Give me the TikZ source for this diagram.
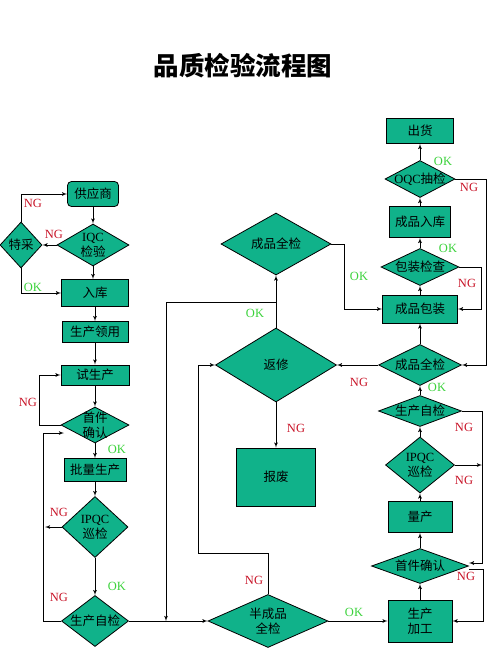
\documentclass[tikz,border=0pt]{standalone}
\usepackage{fontspec}
\setmainfont{Liberation Serif}
\newfontfamily\cjk{Noto Sans CJK SC}
\usepackage{xcolor}
\usepackage{tikz}
\usetikzlibrary{shapes,arrows,calc}
\definecolor{boxgreen}{RGB}{16,178,138}
\definecolor{ngred}{RGB}{200,20,40}
\definecolor{okgreen}{RGB}{60,210,60}
\newcommand{\zw}[1]{\makebox[0pt]{#1}}
\tikzstyle{block} = [rectangle, draw, fill=boxgreen, inner sep=0pt,
    line width=0.8pt, font=\cjk\fontsize{12.5}{15}\selectfont]
\tikzstyle{block_rounded} = [block, rounded corners=4pt]
\tikzstyle{decision} = [diamond, draw, fill=boxgreen, inner sep=0pt, align=center,
    line width=0.8pt, font=\cjk\fontsize{12.5}{15}\selectfont]
\tikzstyle{line} = [draw, -latex', line width=0.8pt]
\tikzstyle{ng} = [text=ngred, inner sep=0pt, font=\fontsize{12.5}{15}\selectfont]
\tikzstyle{ok} = [text=okgreen, inner sep=0pt, font=\fontsize{12.5}{15}\selectfont]
\tikzstyle{heading} = [inner sep=0pt, font=\cjk\bfseries\fontsize{25.5}{30}\selectfont]

\begin{document}
\begin{tikzpicture}[x=1pt, y=-1pt]
    \useasboundingbox (0,0) rectangle (500,666);
    % Place nodes
    \node [heading] (ttl) at (243,66) {品质检验流程图};

    \node [block_rounded, minimum width=51pt, minimum height=25pt] (gys) at (93,194) {供应商};
    \node [decision, minimum width=72pt, minimum height=42pt] (iqc) at (93,245) {\zw{\rmfamily IQC}\\\zw{检验}};
    \node [decision, minimum width=42pt, minimum height=46pt] (tc) at (21,245) {\zw{特采}};
    \node [block, minimum width=67pt, minimum height=27pt] (rk) at (95,293) {入库};
    \node [block, minimum width=66pt, minimum height=21pt] (scly) at (95,332) {生产领用};
    \node [block, minimum width=68pt, minimum height=20pt] (ssc) at (95,375) {试生产};
    \node [decision, minimum width=68pt, minimum height=36pt] (sjqr) at (95,425) {\zw{首件}\\\zw{确认}};
    \node [block, minimum width=62pt, minimum height=23pt] (plsc) at (95,470) {批量生产};
    \node [decision, minimum width=66pt, minimum height=61pt] (ipqc) at (95,527) {\zw{\rmfamily IPQC}\\\zw{巡检}};
    \node [decision, minimum width=67pt, minimum height=51pt] (sczj) at (95,621) {\zw{生产自检}};

    \node [decision, minimum width=110pt, minimum height=62pt] (cpqj) at (276,244) {\zw{成品全检}};
    \node [decision, minimum width=121pt, minimum height=74pt] (fx) at (276,365) {\zw{返修}};
    \node [block, minimum width=79pt, minimum height=58pt] (bf) at (276,477) {报废};
    \node [decision, minimum width=120pt, minimum height=53pt] (bcp) at (268,621) {\zw{半成品}\\\zw{全检}};

    \node [block, minimum width=67pt, minimum height=25pt] (ch) at (420,131) {出货};
    \node [decision, minimum width=70pt, minimum height=37pt] (oqc) at (420,179) {\zw{{\rmfamily OQC}抽检}};
    \node [block, minimum width=61pt, minimum height=31pt] (cprk) at (420,222) {成品入库};
    \node [decision, minimum width=78pt, minimum height=37pt] (bzjc) at (420,267) {\zw{包装检查}};
    \node [block, minimum width=75pt, minimum height=28pt] (cpbz) at (420,309) {成品包装};
    \node [decision, minimum width=83pt, minimum height=41pt] (cpqj2) at (420,365) {\zw{成品全检}};
    \node [decision, minimum width=83pt, minimum height=31pt] (sczj2) at (420,411) {\zw{生产自检}};
    \node [decision, minimum width=69pt, minimum height=56pt] (ipqc2) at (420,465) {\zw{\rmfamily IPQC}\\\zw{巡检}};
    \node [block, minimum width=64pt, minimum height=31pt] (lc) at (420,517) {量产};
    \node [decision, minimum width=97pt, minimum height=35pt] (sjqr2) at (420,566) {\zw{首件确认}};
    \node [block, minimum width=64pt, minimum height=42pt, align=center] (scjg) at (420,621) {生产\\加工};

    % Labels
    \node [ng] (ng1) at (33,203) {NG};
    \node [ng] (ng2) at (54,234) {NG};
    \node [ok] (ok1) at (33,287) {OK};
    \node [ng] (ng3) at (28,402) {NG};
    \node [ok] (ok2) at (117,449) {OK};
    \node [ng] (ng4) at (59,512) {NG};
    \node [ok] (ok3) at (117,586) {OK};
    \node [ng] (ng5) at (59,597) {NG};
    \node [ok] (ok4) at (255,313) {OK};
    \node [ng] (ng6) at (254,580) {NG};
    \node [ok] (ok5) at (354,612) {OK};
    \node [ng] (ng7) at (296,428) {NG};
    \node [ok] (ok6) at (359,276) {OK};
    \node [ok] (ok7) at (443,161) {OK};
    \node [ng] (ng8) at (469,187) {NG};
    \node [ok] (ok8) at (448,248) {OK};
    \node [ng] (ng9) at (467,283) {NG};
    \node [ng] (ng10) at (359,382) {NG};
    \node [ok] (ok9) at (437,387) {OK};
    \node [ng] (ng11) at (464,427) {NG};
    \node [ng] (ng12) at (464,480) {NG};
    \node [ng] (ng13) at (466,576) {NG};

    % Turning points
    \coordinate (ipqcng) at (45,527);
    \coordinate (lret) at (43,433);
    \coordinate (sjqrin) at (64,433);
    \coordinate (okj) at (276,302);
    \coordinate (lj) at (166,621);
    \coordinate (bcpng) at (198,553);
    \coordinate (cpqjr) at (344,244);
    \coordinate (oqcr) at (486,179);
    \coordinate (bzjcr) at (481,267);
    \coordinate (sczjr) at (482,411);
    \coordinate (ipqcr) at (482,465);

    % Draw edges
    \path [line] (gys) -- (iqc);
    \path [line] (iqc) -- (tc);
    \path [line] (tc) |- (gys);
    \path [line] (tc) |- (rk);
    \path [line] (iqc) -- (iqc |- rk.north);
    \path [line] (rk) -- (scly);
    \path [line] (scly) -- (ssc);
    \path [line] (ssc) -- (sjqr);
    \path [line] (sjqr.west) -- ++(-21,0) |- (ssc);
    \path [line] (sjqr) -- (plsc);
    \path [line] (plsc) -- (ipqc);
    \path [line] (ipqc) -- (ipqcng);
    \path [line] (ipqc) -- (sczj);
    \path [line] (sczj) -| (lret) -- (sjqrin);
    \path [line] (sczj) -- (bcp);
    \path [line] (okj) -| (lj);
    \path [line] (fx) -- (cpqj);
    \path [line] (fx) -- (bf);
    \path [line] (bcp) |- (bcpng) |- (fx);
    \path [line] (bcp) -- (scjg);
    \path [line] (cpqj) -- (cpqjr) |- (cpbz);

    \path [line] (scjg) -- (sjqr2);
    \path [line] (sjqr2) -- (lc);
    \path [line] (lc) -- (ipqc2);
    \path [line] (ipqc2) -- (sczj2);
    \path [line] (sczj2) -- (cpqj2);
    \path [line] (cpqj2) -- (cpbz);
    \path [line] (cpbz) -- (bzjc);
    \path [line] (bzjc) -- (cprk);
    \path [line] (cprk) -- (oqc);
    \path [line] (oqc) -- (ch);
    \path [line] (cpqj2) -- (fx);
    \path [line] (oqc) -- (oqcr) |- (cpqj2);
    \path [line] (bzjc) -- (bzjcr) |- (cpbz);
    \path [line] (sczj2) -- (sczjr) |- ($(sjqr2.east)+(0,-3)$);
    \path [line] (ipqc2) -- (ipqcr);
    \path [line] ($(sjqr2.east)+(0,3)$) -- ++(14,0) |- (scjg);
\end{tikzpicture}
\end{document}
